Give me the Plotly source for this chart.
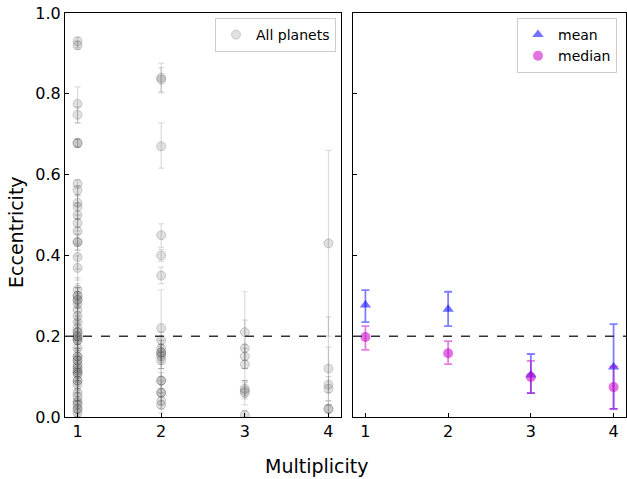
import plotly.graph_objects as go

# ---------------- data ----------------
threshold = 0.2

m1_e = [0.93, 0.92, 0.775, 0.748, 0.678, 0.678, 0.577, 0.562, 0.53, 0.52, 0.50, 0.48, 0.46,
        0.433, 0.433, 0.396, 0.369, 0.315, 0.30, 0.30, 0.29, 0.29, 0.28, 0.265, 0.25, 0.235,
        0.22, 0.21, 0.21, 0.20, 0.20, 0.195, 0.19, 0.19, 0.17, 0.15, 0.15, 0.14, 0.14, 0.13,
        0.125, 0.12, 0.115, 0.11, 0.11, 0.105, 0.09, 0.09, 0.08, 0.06, 0.05, 0.04, 0.035,
        0.03, 0.02, 0.02, 0.01]
m1_hi = [0.01, 0.01, 0.042, 0.02, 0.01, 0.01, 0.01, 0.01, 0.02, 0.03, 0.03, 0.02, 0.03,
         0.02, 0.02, 0.03, 0.03, 0.03, 0.02, 0.03, 0.02, 0.03, 0.04, 0.03, 0.03, 0.04,
         0.03, 0.04, 0.03, 0.05, 0.03, 0.04, 0.03, 0.04, 0.04, 0.04, 0.03, 0.05, 0.03, 0.04,
         0.04, 0.03, 0.05, 0.04, 0.03, 0.04, 0.05, 0.03, 0.04, 0.04, 0.05, 0.03, 0.04,
         0.03, 0.04, 0.02, 0.03]
m1_lo = [0.015, 0.01, 0.047, 0.02, 0.01, 0.01, 0.03, 0.04, 0.03, 0.03, 0.03, 0.02, 0.03,
         0.02, 0.02, 0.03, 0.03, 0.03, 0.02, 0.03, 0.02, 0.03, 0.04, 0.03, 0.03, 0.04,
         0.03, 0.04, 0.03, 0.05, 0.03, 0.04, 0.03, 0.04, 0.04, 0.04, 0.03, 0.05, 0.03, 0.04,
         0.04, 0.03, 0.05, 0.04, 0.03, 0.04, 0.05, 0.03, 0.04, 0.04, 0.04, 0.03, 0.03,
         0.03, 0.02, 0.02, 0.01]

m2_e = [0.84, 0.835, 0.67, 0.45, 0.40, 0.35, 0.22, 0.19, 0.17, 0.16, 0.16, 0.155, 0.15,
        0.14, 0.09, 0.09, 0.06, 0.06, 0.04, 0.03]
m2_hi = [0.036, 0.03, 0.058, 0.028, 0.015, 0.021, 0.095, 0.02, 0.02, 0.03, 0.02, 0.02, 0.03,
         0.02, 0.03, 0.02, 0.03, 0.02, 0.02, 0.02]
m2_lo = [0.038, 0.03, 0.054, 0.03, 0.015, 0.02, 0.12, 0.02, 0.02, 0.03, 0.02, 0.02, 0.03,
         0.02, 0.03, 0.02, 0.03, 0.02, 0.02, 0.02]

m3_e = [0.21, 0.17, 0.15, 0.13, 0.07, 0.065, 0.06, 0.005]
m3_hi = [0.10, 0.07, 0.03, 0.04, 0.02, 0.02, 0.03, 0.01]
m3_lo = [0.07, 0.05, 0.03, 0.04, 0.02, 0.02, 0.03, 0.005]

m4_e = [0.43, 0.12, 0.08, 0.07, 0.02, 0.02]
m4_hi = [0.23, 0.128, 0.093, 0.03, 0.02, 0.01]
m4_lo = [0.23, 0.06, 0.05, 0.03, 0.02, 0.01]

mult = [1, 2, 3, 4]
mean_e = [0.277, 0.267, 0.104, 0.124]
mean_hi = [0.037, 0.043, 0.052, 0.106]
mean_lo = [0.042, 0.042, 0.045, 0.104]
median_e = [0.198, 0.158, 0.099, 0.074]
median_hi = [0.027, 0.030, 0.040, 0.051]
median_lo = [0.032, 0.027, 0.040, 0.054]

xticks = [1, 2, 3, 4]
yticks = [0.0, 0.2, 0.4, 0.6, 0.8, 1.0]
ytick_text = ["0.0", "0.2", "0.4", "0.6", "0.8", "1.0"]

# ---------------- figure ----------------
W, H = 627, 479
L, R, T, B = 65, 1, 13, 62
PW = W - L - R
PH = H - T - B
FONT = "DejaVu Sans, Liberation Sans, sans-serif"
grey = "rgba(90,90,90,0.18)"
grey_line = "rgba(90,90,90,0.26)"


def px_x(p):
    return (p - L) / PW


def px_y(p):
    return ((H - B) - p) / PH


fig = go.Figure()

groups = [(1, m1_e, m1_hi, m1_lo), (2, m2_e, m2_hi, m2_lo),
          (3, m3_e, m3_hi, m3_lo), (4, m4_e, m4_hi, m4_lo)]
for i, (m, e, hi, lo) in enumerate(groups):
    fig.add_trace(go.Scatter(
        x=[m] * len(e), y=e, mode="markers",
        name="All planets", showlegend=(i == 0), legend="legend",
        marker=dict(color=grey, size=9, line=dict(color=grey_line, width=1)),
        error_y=dict(type="data", array=hi, arrayminus=lo, color="rgba(90,90,90,0.22)",
                     thickness=1.2, width=3),
        xaxis="x", yaxis="y"))

fig.add_trace(go.Scatter(
    x=mult, y=mean_e, mode="markers", name="mean", legend="legend2",
    marker=dict(symbol="triangle-up", color="rgba(0,0,255,0.55)", size=10,
                line=dict(width=0)),
    error_y=dict(type="data", array=mean_hi, arrayminus=mean_lo,
                 color="rgba(0,0,255,0.5)", thickness=1.8, width=4),
    xaxis="x2", yaxis="y2"))
fig.add_trace(go.Scatter(
    x=mult, y=median_e, mode="markers", name="median", legend="legend2",
    marker=dict(symbol="circle", color="rgba(200,0,200,0.55)", size=10,
                line=dict(width=0)),
    error_y=dict(type="data", array=median_hi, arrayminus=median_lo,
                 color="rgba(200,0,200,0.5)", thickness=1.8, width=4),
    xaxis="x2", yaxis="y2"))

for xr, yr in [("x", "y"), ("x2", "y2")]:
    fig.add_shape(type="line", xref=xr + " domain", yref=yr, x0=0, x1=1,
                  y0=threshold, y1=threshold,
                  line=dict(color="#333333", width=1.5, dash="dash"), layer="above")

axis_common = dict(showline=True, linecolor="black", linewidth=1, mirror=True,
                   showgrid=False, zeroline=False, ticks="inside", ticklen=4,
                   automargin=False,
                   tickcolor="black", tickfont=dict(size=16, color="black", family=FONT))

fig.update_layout(
    width=W, height=H,
    margin=dict(l=L, r=R, t=T, b=B, pad=0, autoexpand=False),
    paper_bgcolor="white", plot_bgcolor="white",
    font=dict(family=FONT, color="black"),
    xaxis=dict(domain=[0, px_x(341)], range=[0.85, 4.15], tickvals=xticks,
               anchor="y", **axis_common),
    yaxis=dict(domain=[0, 1], range=[0, 1], tickvals=yticks, ticktext=ytick_text,
               anchor="x", **axis_common),
    xaxis2=dict(domain=[px_x(353), 1], range=[0.85, 4.15], tickvals=xticks,
                anchor="y2", **axis_common),
    yaxis2=dict(domain=[0, 1], range=[0, 1], tickvals=yticks, showticklabels=False,
                anchor="x2", matches="y", **axis_common),
    legend=dict(x=px_x(336), xanchor="right", y=px_y(18), yanchor="top",
                bgcolor="rgba(255,255,255,0.8)", bordercolor="#cccccc", borderwidth=1,
                font=dict(size=14, family=FONT), itemwidth=30, tracegroupgap=0),
    legend2=dict(x=px_x(617), xanchor="right", y=px_y(18), yanchor="top",
                 bgcolor="rgba(255,255,255,0.8)", bordercolor="#cccccc", borderwidth=1,
                 font=dict(size=14, family=FONT), itemwidth=30, tracegroupgap=0),
    annotations=[
        dict(text="Multiplicity", xref="paper", yref="paper", x=px_x(316),
             y=px_y(466),
             xanchor="center", yanchor="middle", showarrow=False,
             font=dict(size=19, family=FONT, color="black")),
        dict(text="Eccentricity", xref="paper", yref="paper", x=px_x(16),
             y=px_y(232),
             xanchor="center", yanchor="middle", textangle=-90, showarrow=False,
             font=dict(size=19, family=FONT, color="black")),
    ],
)

fig.write_html("out.html")
